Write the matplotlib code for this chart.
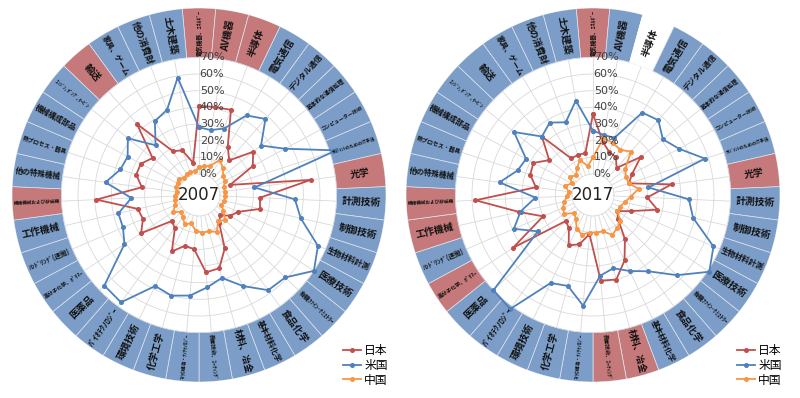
import numpy as np
import matplotlib.pyplot as plt
from matplotlib.lines import Line2D

plt.rcParams['font.family'] = ['Noto Sans CJK JP', 'DejaVu Sans']

# 技術分野 (時計回り、真上から)
categories = [
    '電気機器、ｴﾈﾙｷﾞｰ', 'AV機器', '半導体', '電気通信', 'デジタル通信',
    '基本的な通信処理', 'コンピューター技術', 'ﾏﾈｼﾞﾒﾝﾄのためのIT手法', '光学', '計測技術',
    '制御技術', '生物材料計測', '医療技術', '有機ﾌｧｲﾝ･ｹﾐｽﾄﾘｰ', '食品化学',
    '基本材料化学', '材料、冶金', '表面技術、ｺｰﾃｨﾝｸﾞ', 'ﾏｲｸﾛ構造・ﾅﾉﾃｸﾉﾛｼﾞｰ', '化学工学',
    '環境技術', 'ﾊﾞｲｵﾃｸﾉﾛｼﾞｰ', '医薬品', '高分子化学、ﾎﾟﾘﾏｰ', 'ﾊﾝﾄﾞﾘﾝｸﾞ(運搬)',
    '工作機械', '繊維機械および抄紙機', '他の特殊機械', '熱プロセス・器具', '機械構成部品',
    'ｴﾝｼﾞﾝ, ﾎﾟﾝﾌﾟ, ﾀｰﾋﾞﾝ', '輸送', '家具、ゲーム', '他の消費財', '土木建築',
]

years = ['2007', '2017']

jp_2007 = [0.41, 0.41, 0.42, 0.21, 0.15, 0.29, 0.24, 0.07, 0.55, 0.24,
           0.25, 0.13, 0.10, 0.05, 0.08, 0.23, 0.33, 0.34, 0.20, 0.19,
           0.25, 0.12, 0.10, 0.29, 0.24, 0.25, 0.49, 0.22, 0.27, 0.27,
           0.23, 0.44, 0.18, 0.16, 0.07]
us_2007 = [0.28, 0.27, 0.30, 0.43, 0.48, 0.35, 0.46, 0.74, 0.21, 0.45,
           0.50, 0.65, 0.70, 0.59, 0.58, 0.48, 0.39, 0.43, 0.48, 0.50,
           0.48, 0.67, 0.66, 0.41, 0.37, 0.37, 0.28, 0.44, 0.37, 0.36,
           0.42, 0.27, 0.39, 0.42, 0.59]
cn_2007 = [0.04, 0.05, 0.06, 0.12, 0.09, 0.06, 0.05, 0.03, 0.03, 0.03,
           0.03, 0.02, 0.05, 0.09, 0.07, 0.12, 0.10, 0.10, 0.09, 0.05,
           0.07, 0.04, 0.02, 0.06, 0.03, 0.02, 0.02, 0.01, 0.02, 0.02,
           0.03, 0.01, 0.02, 0.02, 0.02]

jp_2017 = [0.36, 0.20, 0.15, 0.14, 0.09, 0.24, 0.14, 0.10, 0.35, 0.20,
           0.27, 0.12, 0.05, 0.08, 0.20, 0.31, 0.40, 0.39, 0.11, 0.18,
           0.21, 0.12, 0.10, 0.45, 0.20, 0.33, 0.58, 0.22, 0.27, 0.28,
           0.21, 0.34, 0.13, 0.13, 0.13]
us_2017 = [0.26, 0.24, 0.24, 0.45, 0.47, 0.41, 0.46, 0.58, 0.21, 0.45,
           0.49, 0.66, 0.71, 0.57, 0.44, 0.38, 0.33, 0.36, 0.54, 0.44,
           0.46, 0.72, 0.70, 0.27, 0.39, 0.32, 0.22, 0.44, 0.35, 0.33,
           0.48, 0.34, 0.38, 0.34, 0.45]
cn_2017 = [0.10, 0.22, 0.21, 0.19, 0.22, 0.12, 0.10, 0.10, 0.15, 0.10,
           0.07, 0.05, 0.05, 0.10, 0.12, 0.14, 0.10, 0.10, 0.10, 0.12,
           0.10, 0.05, 0.03, 0.08, 0.07, 0.05, 0.03, 0.02, 0.05, 0.02,
           0.05, 0.03, 0.06, 0.10, 0.05]

# 外周リングの色分け (J: 日本が上位, U: 米国が上位, -: 該当なし)
lead_2007 = list('JJJUUUUUJUUUUUUUUUUUUUUUUUJUUUUJUUU')
lead_2017 = list('JU-UUUUUJUUUUUUUJJUUUUUJUJJUUUUUUUU')

series_names = ['日本', '米国', '中国']
line_colors = ['#C0504D', '#4F81BD', '#F79646']
ring_colors = {'J': '#C6797A', 'U': '#7C9DC7', '-': 'white'}

n = len(categories)
theta = np.pi / 2 - 2 * np.pi * np.arange(n) / n
r_in, r_out, r_min = 0.7, 0.996, -0.126

fig = plt.figure(figsize=(8, 3.98), dpi=100)
centers = [(199, 195), (593, 195)]
data = [(jp_2007, us_2007, cn_2007, lead_2007), (jp_2017, us_2017, cn_2017, lead_2017)]

for (cx, cy), year, (jp, us, cn, lead) in zip(centers, years, data):
    ax = fig.add_axes([(cx - 187) / 800, (398 - cy - 187) / 398, 374 / 800, 374 / 398],
                      projection='polar')
    ax.set_ylim(r_min, r_out)
    ax.set_xticks([])
    ax.set_yticks([])
    ax.grid(False)
    ax.spines['polar'].set_visible(False)

    # グリッド
    tt = np.linspace(0, 2 * np.pi, 400)
    for v in np.arange(0, 0.71, 0.1):
        ax.plot(tt, np.full_like(tt, v), color='#D9D9D9', lw=0.6, zorder=1)
    for t in theta:
        ax.plot([t, t], [0, r_in], color='#D9D9D9', lw=0.6, zorder=1)

    # 外周リング
    cols = [ring_colors[c] for c in lead]
    edges = ['white' if c == '-' else '#DCE3EC' for c in lead]
    ax.bar(theta, r_out - r_in, width=2 * np.pi / n, bottom=r_in, color=cols,
           edgecolor=edges, linewidth=0.5, zorder=2)
    for t, lab in zip(theta, categories):
        deg = np.degrees(t)
        deg = (deg + 180) % 360 - 180
        if deg > 90:
            deg -= 180
        elif deg < -90:
            deg += 180
        em = sum(0.5 if ord(ch) < 0x3000 or 0xFF61 <= ord(ch) <= 0xFF9F else 1.0 for ch in lab)
        fs = min(7, 46 / em * 72 / 100)
        ax.text(t, (r_in + r_out) / 2, lab, rotation=deg, rotation_mode='anchor',
                ha='center', va='center', fontsize=fs, fontweight='bold',
                color='#111111', zorder=5)

    # 系列
    for vals, col in zip((jp, us, cn), line_colors):
        ax.plot(np.append(theta, theta[0]), np.append(vals, vals[0]), color=col,
                lw=1.3, marker='o', markersize=2.6, zorder=4, clip_on=False)

    # 目盛ラベル
    for i in range(8):
        ax.annotate(f'{i * 10}%', (np.pi / 2, i / 10), xytext=(0.5, 0),
                    textcoords='offset points', ha='left', va='center',
                    fontsize=8, color='#404040', family='DejaVu Sans', zorder=6)

    ax.text(0, r_min, year, ha='center', va='center', fontsize=12,
            color='#222222', family='DejaVu Sans', zorder=6)

    handles = [Line2D([], [], color=c, lw=1.3, marker='o', markersize=2.6) for c in line_colors]
    fig.legend(handles, series_names, loc='upper left',
               bbox_to_anchor=((cx + 144) / 800, 1 - 344 / 398), frameon=False,
               fontsize=8.5, handlelength=1.5, handletextpad=0.3, labelspacing=0.15,
               borderpad=0, borderaxespad=0)

fig.savefig('out.png', dpi=100)
